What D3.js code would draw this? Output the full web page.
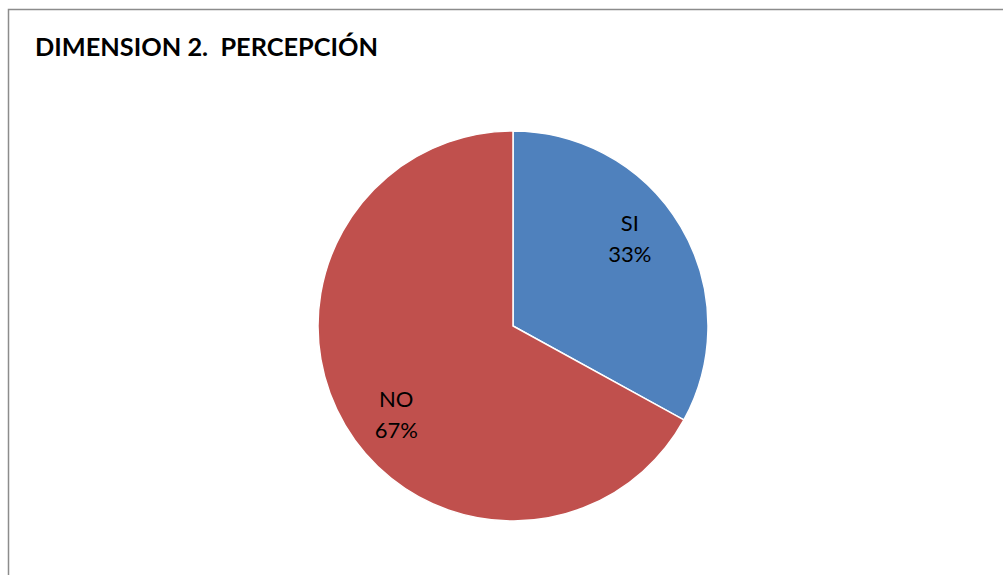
<!DOCTYPE html>
<html>
<head>
<meta charset="utf-8">
<script src="https://cdn.jsdelivr.net/npm/d3@7"></script>
<style>
  html, body { margin: 0; padding: 0; background: #fff; }
  svg { display: block; }
  text { white-space: pre; }
</style>
</head>
<body>
<script>
// Survey answers for dimension 2
const categories = ["SI", "NO"];
const values = [33, 67];
const colors = ["#4F81BD", "#C0504D"];
const title = "DIMENSION 2.  PERCEPCIÓN";

const W = 1003, H = 575;
const svg = d3.select("body").append("svg").attr("width", W).attr("height", H);

// chart frame
svg.append("rect")
  .attr("x", 8.5).attr("y", 9.5)
  .attr("width", W + 10).attr("height", H + 10)
  .attr("fill", "#fff").attr("stroke", "#8c8c8c").attr("stroke-width", 1.5);

svg.append("text")
  .attr("x", 35).attr("y", 56)
  .attr("font-family", "Lato, 'Open Sans', sans-serif")
  .attr("font-weight", "bold")
  .attr("font-size", 24)
  .attr("textLength", 343)
  .attr("lengthAdjust", "spacingAndGlyphs")
  .attr("fill", "#000")
  .text(title);

const cx = 513, cy = 326, r = 195;
const total = d3.sum(values);
const pie = d3.pie().sort(null).value(d => d)(values);
const arc = d3.arc().innerRadius(0).outerRadius(r);

const g = svg.append("g").attr("transform", `translate(${cx},${cy})`);

g.selectAll("path.slice")
  .data(pie)
  .join("path")
  .attr("class", "slice")
  .attr("d", arc)
  .attr("fill", (d, i) => colors[i])
  .attr("stroke", "#fff")
  .attr("stroke-width", 1.5);

// labels sit at 3/4 of the radius, nudged slightly counter-clockwise
const labelR = 146, labelTurn = -0.11;
const fmt = d3.format(".0%");
const labelPos = d => {
  const a = (d.startAngle + d.endAngle) / 2 + labelTurn;
  return [Math.sin(a) * labelR, -Math.cos(a) * labelR];
};

const labels = g.selectAll("text.lbl")
  .data(pie)
  .join("text")
  .attr("class", "lbl")
  .attr("transform", d => `translate(${labelPos(d)})`)
  .attr("text-anchor", "middle")
  .attr("font-family", "Lato, 'Open Sans', sans-serif")
  .attr("font-size", 22)
  .attr("fill", "#000");

labels.append("tspan").attr("x", 0).attr("y", -7).text((d, i) => categories[i]);
labels.append("tspan").attr("x", 0).attr("y", 24).text(d => fmt(d.value / total));
</script>
</body>
</html>
